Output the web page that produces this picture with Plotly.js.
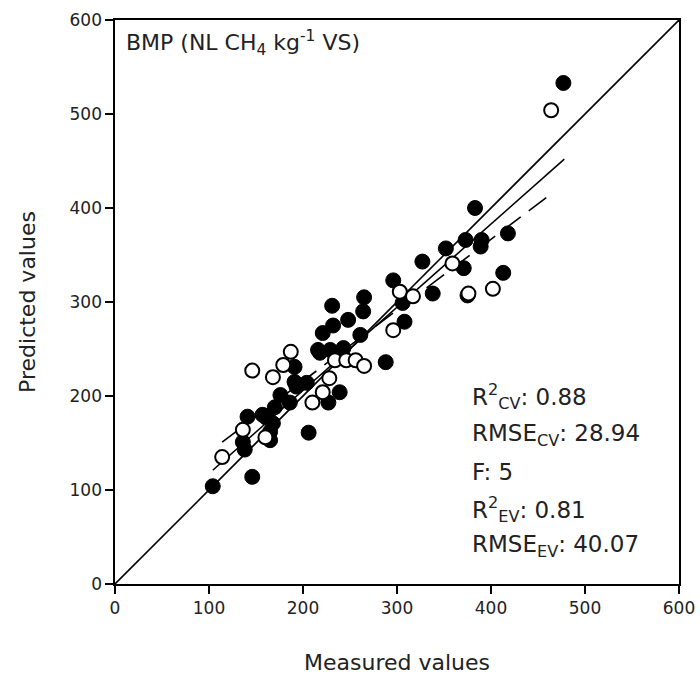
<!DOCTYPE html>
<html>
<head>
<meta charset="utf-8">
<script src="https://cdn.plot.ly/plotly-3.0.1.min.js"></script>
<style>html,body{margin:0;padding:0;background:#fff;}#chart{width:700px;height:678px;}</style>
</head>
<body>
<div id="chart"></div>
<script>
// Calibration (cross-validation) points: filled circles
const calMeasured = [104,146,136,138,141,161,168,165,165,157,170,176,186,191,204,193,191,206,216,229,243,221,232,231,227,239,248,264,265,261,288,296,306,308,327,338,352,373,371,375,383,390,389,413,418,477,218];
const calPredicted = [104,114,151,143,178,177,171,162,153,180,188,201,193,215,214,210,231,161,249,249,251,267,275,296,193,204,281,290,305,265,236,323,299,279,343,309,357,366,336,307,400,366,359,331,373,533,246];
// External validation points: open circles
const valMeasured = [114,136,160,146,168,179,187,210,221,228,234,246,256,265,296,303,317,359,376,402,464];
const valPredicted = [135,164,156,227,220,233,247,193,204,219,238,238,238,232,270,311,306,341,309,314,504];
// 1:1 line
const oneToOneX = [0,600];
const oneToOneY = [0,600];
// Regression line, calibration (solid)
const regCalX = [104,478];
const regCalY = [121,452];
// Regression line, validation (dashed)
const regValX = [114,460];
const regValY = [151,412];
const tickVals = [0,100,200,300,400,500,600];
// Statistics text lines
const statLines = ['R<sup>2</sup><sub>CV</sub>: 0.88', 'RMSE<sub>CV</sub>: 28.94', 'F: 5', 'R<sup>2</sup><sub>EV</sub>: 0.81', 'RMSE<sub>EV</sub>: 40.07'];

const traces = [
  {x: oneToOneX, y: oneToOneY, mode: 'lines', line: {color: '#000', width: 1.6}, hoverinfo: 'skip'},
  {x: regCalX, y: regCalY, mode: 'lines', line: {color: '#000', width: 1.6}, hoverinfo: 'skip'},
  {x: regValX, y: regValY, mode: 'lines', line: {color: '#000', width: 1.6, dash: '22px,10px'}, hoverinfo: 'skip'},
  {x: calMeasured, y: calPredicted, mode: 'markers', marker: {symbol: 'circle', size: 15, color: '#000', line: {color: '#000', width: 1}}},
  {x: valMeasured, y: valPredicted, mode: 'markers', marker: {symbol: 'circle', size: 14, color: '#fff', line: {color: '#000', width: 2}}}
];

const fam = 'DejaVu Sans, Liberation Sans, sans-serif';
const txtColor = '#222';
const statY = [0.333, 0.264, 0.199, 0.132, 0.068];
const annotations = [
  {xref: 'paper', yref: 'paper', x: 0.016, y: 0.992, xanchor: 'left', yanchor: 'top', showarrow: false, align: 'left',
   text: 'BMP (NL CH<sub>4</sub> kg<sup>-1</sup> VS)', font: {family: fam, size: 22, color: txtColor}}
];
statLines.forEach((t, i) => annotations.push({
  xref: 'paper', yref: 'paper', x: 0.63, y: statY[i], xanchor: 'left', yanchor: 'middle', showarrow: false, align: 'left',
  text: t, font: {family: fam, size: 23, color: txtColor}
}));

const layout = {
  width: 700, height: 678,
  margin: {l: 115, r: 21, t: 20, b: 94},
  paper_bgcolor: '#fff', plot_bgcolor: '#fff',
  showlegend: false,
  font: {family: fam, color: '#000'},
  xaxis: {
    range: [0, 600], tickvals: tickVals, ticktext: tickVals.map(String),
    showgrid: false, zeroline: false, showline: true, linecolor: '#000', linewidth: 1.6, mirror: true,
    ticks: 'outside', ticklen: 8, tickwidth: 1.6, tickcolor: '#000',
    tickfont: {family: fam, size: 17, color: txtColor},
    title: {text: 'Measured values', font: {family: fam, size: 22, color: txtColor}, standoff: 37}
  },
  yaxis: {
    range: [0, 600], tickvals: tickVals, ticktext: tickVals.map(String),
    showgrid: false, zeroline: false, showline: true, linecolor: '#000', linewidth: 1.6, mirror: true,
    ticks: 'outside', ticklen: 8, tickwidth: 1.6, tickcolor: '#000',
    tickfont: {family: fam, size: 17, color: txtColor},
    title: {text: 'Predicted values', font: {family: fam, size: 22, color: txtColor}, standoff: 28}
  },
  annotations: annotations
};
Plotly.newPlot('chart', traces, layout, {displayModeBar: false, staticPlot: true});
</script>
</body>
</html>
